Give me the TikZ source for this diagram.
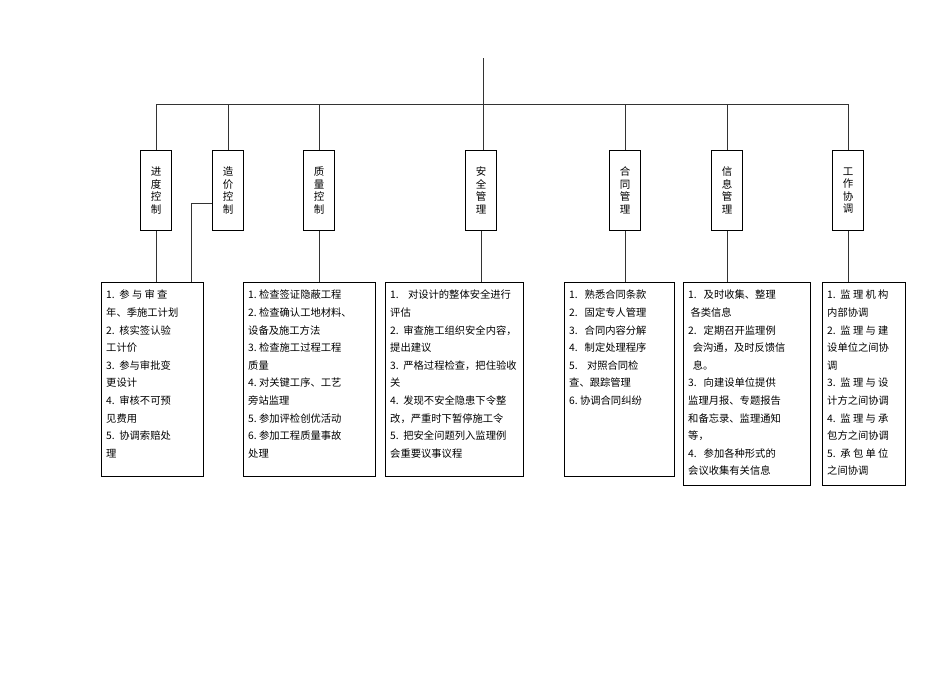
\documentclass[tikz,border=0pt]{standalone}
\usepackage{fontspec}
\newfontfamily\cjk{Noto Sans CJK SC}
\begin{document}
\begin{tikzpicture}[x=1pt,y=-1pt,
  ln/.style={draw=black!80,line width=0.7pt},
  box/.style={draw,line width=1pt},
  head/.style={draw,line width=0.9pt,minimum width=31pt,minimum height=80pt,inner sep=0pt,anchor=north,font=\cjk\fontsize{10.5}{12.5}\selectfont,align=center},
  body/.style={anchor=north west,inner xsep=5pt,inner ysep=8pt,align=left,font=\cjk\fontsize{10.3}{17.6}\selectfont}]
\useasboundingbox (0,0) rectangle (950,672);
\node[head] (h1) at (156,150) {进\\度\\控\\制};
\node[head] (h2) at (228,150) {造\\价\\控\\制};
\node[head] (h3) at (319,150) {质\\量\\控\\制};
\node[head] (h4) at (481,150) {安\\全\\管\\理};
\node[head] (h5) at (625,150) {合\\同\\管\\理};
\node[head] (h6) at (727,150) {信\\息\\管\\理};
\node[head] (h7) at (848,150) {工\\作\\协\\调};
\coordinate (top) at (483,58);
\coordinate (bus) at (483,104);
\draw[ln] (top) -- (bus);
\draw[ln] (156,104) -- (848,104);
\foreach \n in {h1,h2,h3,h5,h6,h7} \draw[ln] (\n.north) -- (\n.north |- bus);
\draw[ln] (483,104) -- (483,150);
\draw[box] (101,282) rectangle (203,476);
\draw[box] (243,282) rectangle (375,476);
\draw[box] (385,282) rectangle (523,476);
\draw[box] (564,282) rectangle (674,476);
\draw[box] (683,282) rectangle (810,485);
\draw[box] (822,282) rectangle (905,485);
\coordinate (c1) at (156,282);
\coordinate (c2) at (319,282);
\coordinate (c3) at (481,282);
\coordinate (c4) at (625,282);
\coordinate (c5) at (727,282);
\coordinate (c6) at (848,282);
\node[body] (b1) at (101,282) {1.\ \ 参 与 审 查\\年、季施工计划\\2.\ \ 核实签认验\\工计价\\3.\ \ 参与审批变\\更设计\\4.\ \ 审核不可预\\见费用\\5.\ \ 协调索赔处\\理};
\node[body] (b2) at (243,282) {1.\ 检查签证隐蔽工程\\2.\ 检查确认工地材料、\\设备及施工方法\\3.\ 检查施工过程工程\\质量\\4.\ 对关键工序、工艺\\旁站监理\\5.\ 参加评检创优活动\\6.\ 参加工程质量事故\\处理};
\node[body] (b3) at (385,282) {1.\ \ \ \ 对设计的整体安全进行\\评估\\2.\ \ 审查施工组织安全内容，\\提出建议\\3.\ \ 严格过程检查，把住验收\\关\\4.\ \ 发现不安全隐患下令整\\改，严重时下暂停施工令\\5.\ \ 把安全问题列入监理例\\会重要议事议程};
\node[body] (b4) at (564,282) {1.\ \ \ 熟悉合同条款\\2.\ \ \ 固定专人管理\\3.\ \ \ 合同内容分解\\4.\ \ \ 制定处理程序\\5.\ \ \ \ 对照合同检\\查、跟踪管理\\6.\ 协调合同纠纷};
\node[body] (b5) at (683,282) {1.\ \ \ 及时收集、整理\\\ 各类信息\\2.\ \ \ 定期召开监理例\\\ \ 会沟通，及时反馈信\\\ \ 息。\\3.\ \ \ 向建设单位提供\\监理月报、专题报告\\和备忘录、监理通知\\等，\\4.\ \ \ 参加各种形式的\\会议收集有关信息};
\node[body] (b6) at (822,282) {1.\ \ 监 理 机 构\\内部协调\\2.\ \ 监 理 与 建\\设单位之间协\\调\\3.\ \ 监 理 与 设\\计方之间协调\\4.\ \ 监 理 与 承\\包方之间协调\\5.\ \ 承 包 单 位\\之间协调};
\draw[ln] (h1.south) -- (h1.south |- c1);
\draw[ln] (h2.west |- 0,203) -- (191,203) -- (191,282);
\draw[ln] (h3.south) -- (c2);
\draw[ln] (h4.south) -- (c3);
\draw[ln] (h5.south) -- (c4);
\draw[ln] (h6.south) -- (c5);
\draw[ln] (h7.south) -- (c6);
\end{tikzpicture}
\end{document}
